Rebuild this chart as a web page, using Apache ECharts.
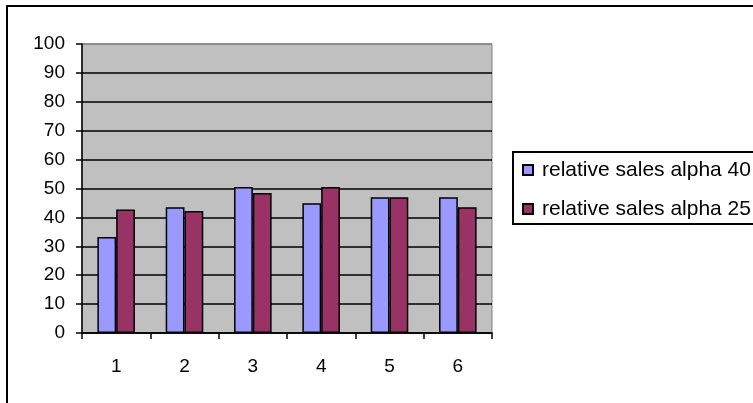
<!DOCTYPE html>
<html>
<head>
<meta charset="utf-8">
<script src="https://cdn.jsdelivr.net/npm/echarts@6/dist/echarts.min.js"></script>
<style>
  html, body { margin: 0; padding: 0; background: #ffffff; }
  #chart { width: 753px; height: 403px; }
</style>
</head>
<body>
<div id="chart"></div>
<script>
// Categories along the x axis
const categories = ['1', '2', '3', '4', '5', '6'];
// Series values
const alpha40 = [33.2, 43.5, 50.5, 44.9, 47.0, 47.0];
const alpha25 = [42.7, 42.2, 48.4, 50.5, 47.0, 43.5];
const seriesNames = ['relative sales alpha 40', 'relative sales alpha 25'];

const FONT = '"Liberation Sans", Arial, sans-serif';

// Gridlines are black, the top one blends into the grey frame
const splitColors = ['#000', '#000', '#000', '#000', '#000', '#000', '#000', '#000', '#000', '#000', '#808080'];

const chart = echarts.init(document.getElementById('chart'), null, { renderer: 'canvas' });

chart.setOption({
  animation: false,
  backgroundColor: '#ffffff',
  textStyle: { fontFamily: FONT },
  graphic: [{
    type: 'rect',
    shape: { x: 7, y: 6, width: 780, height: 430 },
    style: { fill: 'none', stroke: '#000', lineWidth: 2 },
    silent: true
  }],
  grid: {
    left: 82, right: 261, top: 44, bottom: 70,
    show: true,
    backgroundColor: '#C0C0C0',
    borderColor: '#808080',
    borderWidth: 1
  },
  legend: {
    orient: 'vertical',
    left: 513, top: 152,
    padding: [7, 20, 4, 9],
    itemGap: 17,
    itemWidth: 10, itemHeight: 10,
    icon: 'rect',
    borderColor: '#000', borderWidth: 2,
    backgroundColor: '#fff',
    textStyle: { fontFamily: FONT, fontSize: 21, color: '#000', lineHeight: 22, padding: [0, 0, 0, 4] },
    data: seriesNames
  },
  xAxis: {
    type: 'category',
    data: categories,
    axisLine: { lineStyle: { color: '#000', width: 1.5 } },
    axisTick: { show: true, inside: false, length: 6, lineStyle: { color: '#000', width: 1.5 } },
    axisLabel: { color: '#000', fontSize: 19, fontFamily: FONT, margin: 24 },
    splitLine: { show: false }
  },
  yAxis: {
    type: 'value',
    min: 0, max: 100, interval: 10,
    axisLine: { show: true, lineStyle: { color: '#000', width: 1.5 } },
    axisTick: { show: true, inside: false, length: 6, lineStyle: { color: '#000', width: 1.5 } },
    axisLabel: { color: '#000', fontSize: 19, fontFamily: FONT, margin: 17 },
    splitLine: { show: true, lineStyle: { color: splitColors, width: 1.5 } }
  },
  series: [
    {
      name: seriesNames[0],
      type: 'bar',
      data: alpha40,
      barGap: '0%',
      barCategoryGap: '45%',
      itemStyle: { color: '#9999FF', borderColor: '#000', borderWidth: 1.5 }
    },
    {
      name: seriesNames[1],
      type: 'bar',
      data: alpha25,
      barGap: '0%',
      barCategoryGap: '45%',
      itemStyle: { color: '#993366', borderColor: '#000', borderWidth: 1.5 }
    }
  ]
});
</script>
</body>
</html>
